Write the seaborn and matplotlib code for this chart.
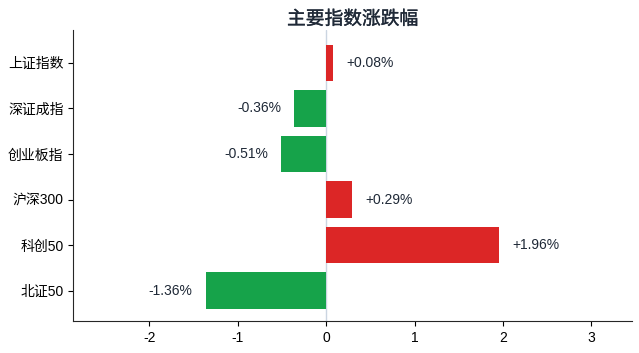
import matplotlib
matplotlib.use("Agg")
import matplotlib.pyplot as plt
import matplotlib.patheffects as pe
import seaborn as sns
import pandas as pd

categories = ["上证指数", "深证成指", "创业板指", "沪深300", "科创50", "北证50"]
values = [0.08, -0.36, -0.51, 0.29, 1.96, -1.36]
labels = ["+0.08%", "-0.36%", "-0.51%", "+0.29%", "+1.96%", "-1.36%"]

sns.set_style("ticks")
plt.rcParams["font.family"] = ["Liberation Sans", "Noto Sans CJK SC", "DejaVu Sans"]
plt.rcParams["axes.unicode_minus"] = False

df = pd.DataFrame({"name": categories, "value": values})
colors = ["#dc2626" if v >= 0 else "#16a34a" for v in values]

fig = plt.figure(figsize=(6.39, 3.53), dpi=100)
ax = fig.add_axes([0.1147, 0.0907, 0.8743, 0.8243])
sns.barplot(data=df, x="value", y="name", hue="name", palette=colors,
            legend=False, orient="h", width=0.8, ax=ax, saturation=1,
            linewidth=0, edgecolor="none")
ax.axvline(0, color="#cbd5e1", linewidth=1, zorder=0)
for i, (v, t) in enumerate(zip(values, labels)):
    off = 0.15 if v >= 0 else -0.15
    ax.text(v + off, i, t, ha="left" if v >= 0 else "right", va="center",
            fontsize=10, color="#1f2937")
ax.set_xlim(min(values) - 1.5, max(values) + 1.5)
ax.set_ylim(5.665, -0.72)
ax.set_xticks([-2, -1, 0, 1, 2, 3])
ax.set_xlabel("")
ax.set_ylabel("")
ax.tick_params(labelsize=10, colors="#000000")
sns.despine(ax=ax)
ax.set_title("主要指数涨跌幅", fontsize=13.5, color="#1f2937", pad=4,
             path_effects=[pe.withStroke(linewidth=0.25, foreground="#1f2937")])
fig.savefig("out.png", dpi=100)
